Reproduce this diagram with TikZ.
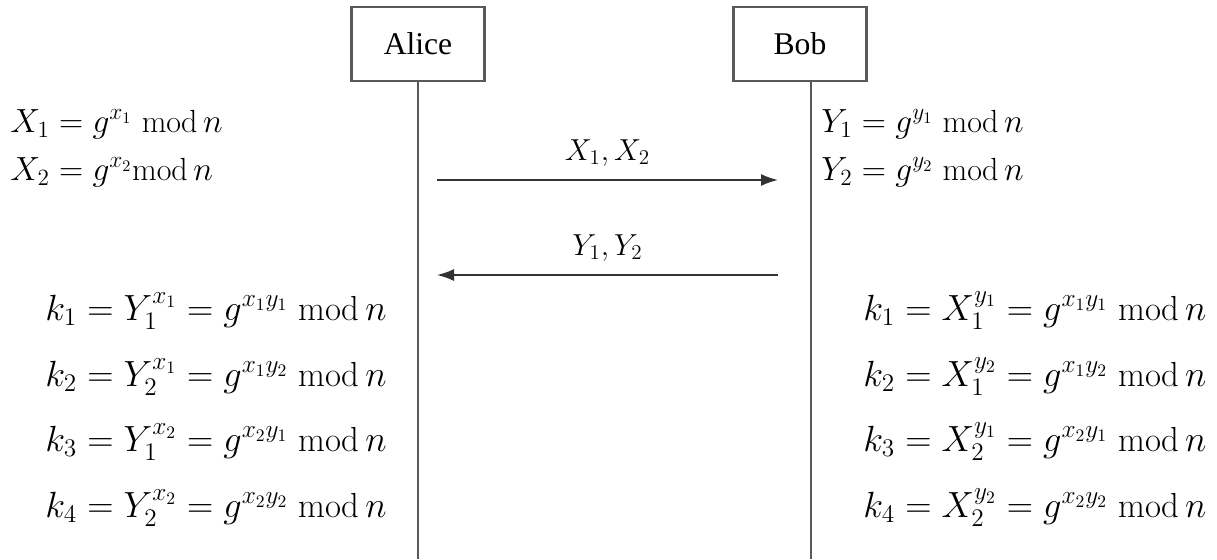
\documentclass[tikz,border=0pt]{standalone}
\usepackage{amsmath, amssymb}
\usepackage{fontspec}
\newfontfamily\namefont{Liberation Serif}
\usepackage{tikz}
\usetikzlibrary{arrows.meta, positioning, calc}

\tikzset{
  party/.style={draw=black!65, line width=1.2pt, minimum width=2.66cm, minimum height=1.48cm, font={\namefont\fontsize{18}{22}\selectfont}},
  lifeline/.style={draw=black!65, line width=1.2pt},
  msg/.style={draw=black!80, line width=0.9pt, -{Latex[length=3.4mm, width=2.4mm]}},
  eqn/.style={anchor=base west, inner sep=0pt, font=\fontsize{19.8}{24}\selectfont},
  topeqn/.style={eqn, scale=0.92, transform shape},
}

\begin{document}
\begin{tikzpicture}[x=0.02cm, y=-0.02cm]
  \useasboundingbox (0,0) rectangle (1217,559);

  % Participants
  \node[party] (alice) at (418,44) {Alice};
  \node[party] (bob) at (800,44) {Bob};

  % Lignes de vie
  \coordinate (aliceEnd) at (alice.south |- 0,559);
  \coordinate (bobTop) at (811,0 |- bob.south);
  \coordinate (bobEnd) at (811,559);
  \draw[lifeline] (alice.south) -- (aliceEnd);
  \draw[lifeline] (bobTop) -- (bobEnd);

  % Messages
  \coordinate (m1s) at (437,180);
  \coordinate (m1e) at (778,180);
  \coordinate (m2s) at (778,275);
  \coordinate (m2e) at (437,275);
  \draw[msg] (m1s) -- node[above=4pt, font=\fontsize{17.28}{20}\selectfont] (lblX) {$X_1, X_2$} (m1e);
  \draw[msg] (m2s) -- node[above=4pt, font=\fontsize{17.28}{20}\selectfont] (lblY) {$Y_1, Y_2$} (m2e);

  % Valeurs publiques
  \node[topeqn] (ax1) at (10,132) {$X_1 = g^{x_1}\ \mathrm{mod}\, n$};
  \node[topeqn] (ax2) at (10,180) {$X_2 = g^{x_2}\mathrm{mod}\, n$};
  \node[topeqn] (by1) at (821,132) {$Y_1 = g^{y_1}\ \mathrm{mod}\, n$};
  \node[topeqn] (by2) at (821,180) {$Y_2 = g^{y_2}\ \mathrm{mod}\, n$};

  % Cles calculees par Alice
  \node[eqn] (ak1) at (45,320) {$k_1 = Y_1^{x_1} = g^{x_1y_1}\ \mathrm{mod}\, n$};
  \node[eqn] (ak2) at (45,386) {$k_2 = Y_2^{x_1} = g^{x_1y_2}\ \mathrm{mod}\, n$};
  \node[eqn] (ak3) at (45,451) {$k_3 = Y_1^{x_2} = g^{x_2y_1}\ \mathrm{mod}\, n$};
  \node[eqn] (ak4) at (45,517) {$k_4 = Y_2^{x_2} = g^{x_2y_2}\ \mathrm{mod}\, n$};

  % Cles calculees par Bob
  \node[eqn] (bk1) at (863,320) {$k_1 = X_1^{y_1} = g^{x_1y_1}\ \mathrm{mod}\, n$};
  \node[eqn] (bk2) at (863,386) {$k_2 = X_1^{y_2} = g^{x_1y_2}\ \mathrm{mod}\, n$};
  \node[eqn] (bk3) at (863,451) {$k_3 = X_2^{y_1} = g^{x_2y_1}\ \mathrm{mod}\, n$};
  \node[eqn] (bk4) at (863,517) {$k_4 = X_2^{y_2} = g^{x_2y_2}\ \mathrm{mod}\, n$};
\end{tikzpicture}
\end{document}
